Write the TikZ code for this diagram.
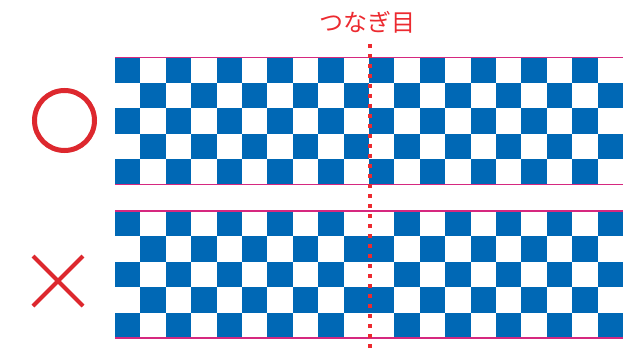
\documentclass[tikz,border=0pt]{standalone}
\usepackage{fontspec}
\newfontfamily\jpfont{Noto Sans CJK JP}
\usetikzlibrary{positioning,shapes.misc}
\definecolor{tileblue}{HTML}{0068B5}
\definecolor{edgepink}{HTML}{D6287F}
\definecolor{markred}{HTML}{DD282E}
\definecolor{seamred}{HTML}{EC2A30}
\tikzset{
  tile/.style = {fill=tileblue},
  bandedge/.style = {draw=edgepink, line width=1.2pt}
}

\begin{document}
\begin{tikzpicture}[
    x=1pt, y=-1pt,
    seamline/.style={draw=seamred, line width=4pt, dash pattern=on 4.3pt off 5.7pt},
    okmark/.style={circle, draw=markred, line width=5pt, minimum size=60pt, inner sep=0pt},
    ngmark/.style={cross out, draw=markred, line width=4pt, minimum size=46pt, inner sep=0pt}
]
    \useasboundingbox (0,0) rectangle (637,350);

    % Top band: pattern runs on across the seam
    \foreach \r in {0,...,4} {
        \foreach \c in {0,...,19} {
            \pgfmathtruncatemacro\odd{mod(\r+\c,2)}
            \ifnum\odd=0
                \fill[tile] (115+25.4*\c,57.5+25.4*\r) rectangle ++(25.4,25.4);
            \fi
        }
    }
    \draw[bandedge] (115,57.5) -- (623,57.5);
    \draw[bandedge] (115,184.5) -- (623,184.5);

    % Bottom band: right half shifted by one tile
    \foreach \r in {0,...,4} {
        \foreach \c in {0,...,19} {
            \pgfmathtruncatemacro\odd{mod(\r+\c+(\c>9),2)}
            \ifnum\odd=0
                \fill[tile] (115+25.4*\c,211+25.4*\r) rectangle ++(25.4,25.4);
            \fi
        }
    }
    \draw[bandedge] (115,211) -- (623,211);
    \draw[bandedge] (115,338) -- (623,338);

    % Seam
    \node[seamred, font=\jpfont\fontsize{24}{26}\selectfont] (seamlabel) at (367,22) {つなぎ目};
    \coordinate (seamtop) at (369.5,44);
    \coordinate (seambot) at (369.5,352);
    \draw[seamline] (seamtop) -- (seambot);

    % Marks
    \node[okmark] (ok) at (64.5,120.5) {};
    \node[ngmark] (ng) at (58,281) {};

\end{tikzpicture}
\end{document}
